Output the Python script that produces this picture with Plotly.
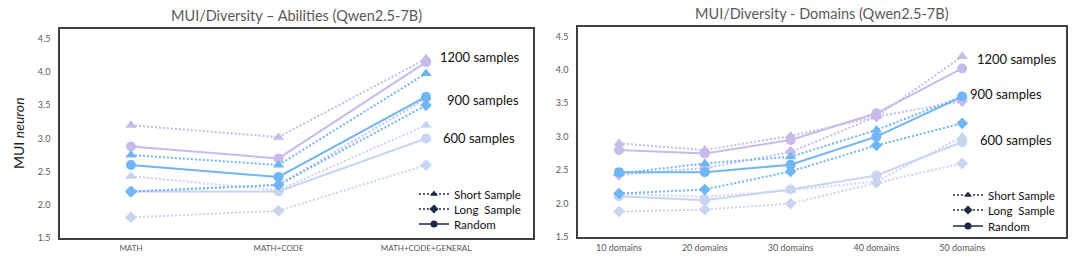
import plotly.graph_objects as go

# ---------------- data ----------------
abil_cats = ["MATH", "MATH+CODE", "MATH+CODE+GENERAL"]
dom_cats = ["10 domains", "20 domains", "30 domains", "40 domains", "50 domains"]

# Abilities (left)
abil_600_short = [2.43, 2.22, 3.20]
abil_600_long = [1.81, 1.91, 2.60]
abil_600_random = [2.20, 2.20, 3.00]
abil_900_short = [2.75, 2.60, 3.98]
abil_900_long = [2.20, 2.30, 3.50]
abil_900_random = [2.60, 2.42, 3.63]
abil_1200_short = [3.20, 3.02, 4.20]
abil_1200_long = [2.20, 2.30, 3.60]
abil_1200_random = [2.88, 2.70, 4.15]

# Domains (right)
dom_600_short = [2.15, 2.10, 2.20, 2.33, 3.00]
dom_600_long = [1.88, 1.91, 2.00, 2.31, 2.60]
dom_600_random = [2.11, 2.05, 2.21, 2.42, 2.92]
dom_900_short = [2.45, 2.60, 2.70, 3.10, 3.60]
dom_900_long = [2.15, 2.21, 2.48, 2.87, 3.20]
dom_900_random = [2.47, 2.47, 2.58, 3.00, 3.60]
dom_1200_short = [2.90, 2.80, 3.01, 3.30, 4.20]
dom_1200_long = [2.43, 2.53, 2.77, 3.30, 3.53]
dom_1200_random = [2.80, 2.75, 2.95, 3.35, 4.02]

sample_labels = ["600 samples", "900 samples", "1200 samples"]
legend_names = ["Short Sample", "Long  Sample", "Random"]
titles = ["MUI/Diversity \u2013 Abilities (Qwen2.5-7B)", "MUI/Diversity - Domains (Qwen2.5-7B)"]

# ---------------- style ----------------
FONT = "Lato"
C600 = "#C7D5F1"
C900 = "#6FB6F5"
C1200 = "#C9BAEC"
DARK = "#1B2A47"
DOT = "2px,2px"
W, H = 1077, 270

fig = go.Figure()

def add_group(xcats, short, long_, rand, color, xa, ya):
    fig.add_trace(go.Scatter(x=xcats, y=rand, mode="lines+markers", xaxis=xa, yaxis=ya,
                             line=dict(color=color, width=2),
                             marker=dict(symbol="circle", size=10, color=color),
                             showlegend=False, hoverinfo="skip"))
    fig.add_trace(go.Scatter(x=xcats, y=short, mode="lines+markers", xaxis=xa, yaxis=ya,
                             line=dict(color=color, width=2, dash=DOT),
                             marker=dict(symbol="triangle-up", size=10, color=color),
                             showlegend=False, hoverinfo="skip"))
    fig.add_trace(go.Scatter(x=xcats, y=long_, mode="lines+markers", xaxis=xa, yaxis=ya,
                             line=dict(color=color, width=2, dash=DOT),
                             marker=dict(symbol="diamond", size=9, color=color),
                             showlegend=False, hoverinfo="skip"))

add_group(abil_cats, abil_600_short, abil_600_long, abil_600_random, C600, "x", "y")
add_group(abil_cats, abil_1200_short, abil_1200_long, abil_1200_random, C1200, "x", "y")
add_group(abil_cats, abil_900_short, abil_900_long, abil_900_random, C900, "x", "y")

add_group(dom_cats, dom_600_short, dom_600_long, dom_600_random, C600, "x2", "y2")
add_group(dom_cats, dom_1200_short, dom_1200_long, dom_1200_random, C1200, "x2", "y2")
add_group(dom_cats, dom_900_short, dom_900_long, dom_900_random, C900, "x2", "y2")

# legend entries: one legend per row so row spacing matches
leg_styles = [("triangle-up", DOT), ("diamond", DOT), ("circle", "solid")]
left_rows = [194, 209, 224]
right_rows = [195, 210, 226]
legend_layout = {}
k = 1
for x0, rows in [(414, left_rows), (948, right_rows)]:
    for name, (sym, dash), ry in zip(legend_names, leg_styles, rows):
        key = "legend" if k == 1 else f"legend{k}"
        fig.add_trace(go.Scatter(x=[None], y=[None], mode="lines+markers", name=name,
                                 line=dict(color=DARK, width=1.5, dash=dash),
                                 marker=dict(symbol=sym, size=7, color=DARK),
                                 legend=key, showlegend=True))
        legend_layout[key] = dict(x=x0 / W, y=1 - ry / H, xanchor="left", yanchor="middle",
                                  bgcolor="rgba(0,0,0,0)", borderwidth=0,
                                  font=dict(size=11.5, color="#111111", family=FONT),
                                  itemwidth=30)
        k += 1

axis_common = dict(showline=True, mirror=True, linecolor="#404040", linewidth=1.5,
                   showgrid=False, zeroline=False, ticks="")

fig.update_layout(
    width=W, height=H,
    margin=dict(l=0, r=0, t=0, b=0, autoexpand=False),
    paper_bgcolor="white", plot_bgcolor="white",
    font=dict(family=FONT, color="#595959"),
    xaxis=dict(domain=[60/W, 533/W], range=[-0.481, 2.725], type="category",
               anchor="y", tickfont=dict(size=8, color="#595959"), ticklabelstandoff=2,
               automargin=False, **axis_common),
    yaxis=dict(domain=[1-238/H, 1-29/H], range=[1.5, 4.65], dtick=0.5, tick0=1.5,
               tickformat=".1f", anchor="x", tickfont=dict(size=9, color="#595959"),
               ticklabelstandoff=6, automargin=False, **axis_common),
    xaxis2=dict(domain=[578/W, 1066/W], range=[-0.478, 5.21], type="category",
                anchor="y2", tickfont=dict(size=9, color="#595959"), ticklabelstandoff=1,
                automargin=False, **axis_common),
    yaxis2=dict(domain=[1-237/H, 1-27/H], range=[1.5, 4.64], dtick=0.5, tick0=1.5,
                tickformat=".1f", anchor="x2", tickfont=dict(size=9, color="#595959"),
                ticklabelstandoff=6, automargin=False, **axis_common),
    showlegend=True,
    **legend_layout,
)

annos = []
def anno(text, px, py, size, color, angle=0):
    annos.append(dict(text=text, x=px / W, y=1 - py / H, xref="paper", yref="paper",
                      xanchor="center", yanchor="middle", textangle=angle,
                      showarrow=False, font=dict(size=size, color=color, family=FONT)))

anno(titles[0], 296, 15, 14.5, "#595959")
anno(titles[1], 822, 14, 14.5, "#595959")
anno("MUI <i>neuron</i>", 18, 133, 14, "#222222", angle=-90)

left_pos = [(479, 138), (483, 100), (479, 57)]
right_pos = [(1016, 140), (1006, 94), (1016, 59)]
for lab, (px, py) in zip(sample_labels, left_pos):
    anno(lab, px, py, 13, "#111111")
for lab, (px, py) in zip(sample_labels, right_pos):
    anno(lab, px, py, 13, "#111111")
fig.update_layout(annotations=annos)

fig.write_html("out.html", config={"displayModeBar": False},
               post_script="document.body.style.margin='0px';document.body.style.overflow='hidden';")
